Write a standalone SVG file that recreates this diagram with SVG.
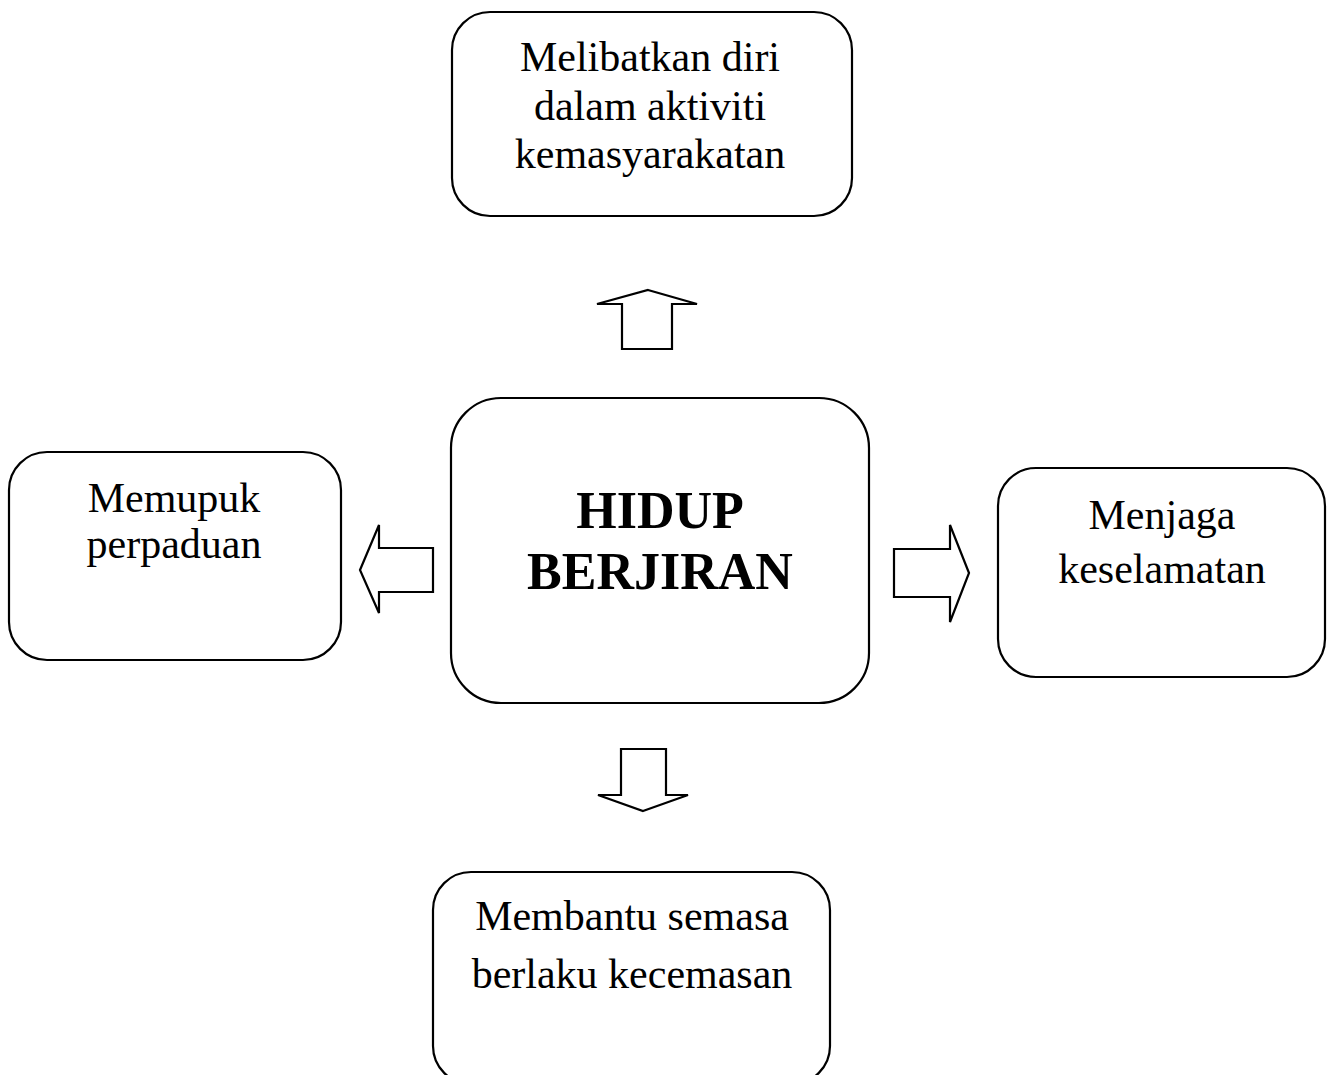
<svg xmlns="http://www.w3.org/2000/svg" width="1331" height="1075" viewBox="0 0 1331 1075">
<style>
.box{fill:#fff;stroke:#000;stroke-width:2.2}
.arr{fill:#fff;stroke:#000;stroke-width:2.2;stroke-linejoin:miter}
.t{font-family:"Liberation Serif","Times New Roman",serif;font-size:42px;fill:#000;text-anchor:middle}
.tb{font-family:"Liberation Serif","Times New Roman",serif;font-size:52px;font-weight:bold;fill:#000;text-anchor:middle}
</style>
<rect width="1331" height="1075" fill="#fff"/>
<g id="top">
<rect class="box" x="452" y="12" width="400" height="204" rx="38"/>
<text class="t" x="650" y="71">Melibatkan diri</text>
<text class="t" x="650" y="120">dalam aktiviti</text>
<text class="t" x="650" y="168">kemasyarakatan</text>
</g>
<g id="left">
<rect class="box" x="9" y="452" width="332" height="208" rx="38"/>
<text class="t" x="174" y="512">Memupuk</text>
<text class="t" x="174" y="558">perpaduan</text>
</g>
<g id="center">
<rect class="box" x="451" y="398" width="418" height="305" rx="50"/>
<text class="tb" x="660" y="528">HIDUP</text>
<text class="tb" x="660" y="589">BERJIRAN</text>
</g>
<g id="right">
<rect class="box" x="998" y="468" width="327" height="209" rx="38"/>
<text class="t" x="1162" y="529">Menjaga</text>
<text class="t" x="1162" y="583">keselamatan</text>
</g>
<g id="bottom">
<rect class="box" x="433" y="872" width="397" height="212" rx="38"/>
<text class="t" x="632" y="930">Membantu semasa</text>
<text class="t" x="632" y="988">berlaku kecemasan</text>
</g>
<g id="connectors">
<polygon class="arr" points="648,290 697,304 672,304 672,349 622,349 622,304 597,304"/>
<polygon class="arr" points="360,570 379,525 379,548 433,548 433,592 379,592 379,613"/>
<polygon class="arr" points="969,573 950,525 950,549 894,549 894,597 950,597 950,622"/>
<polygon class="arr" points="643,811 688,795 666,795 666,749 621,749 621,795 598,795"/>
</g>
</svg>
